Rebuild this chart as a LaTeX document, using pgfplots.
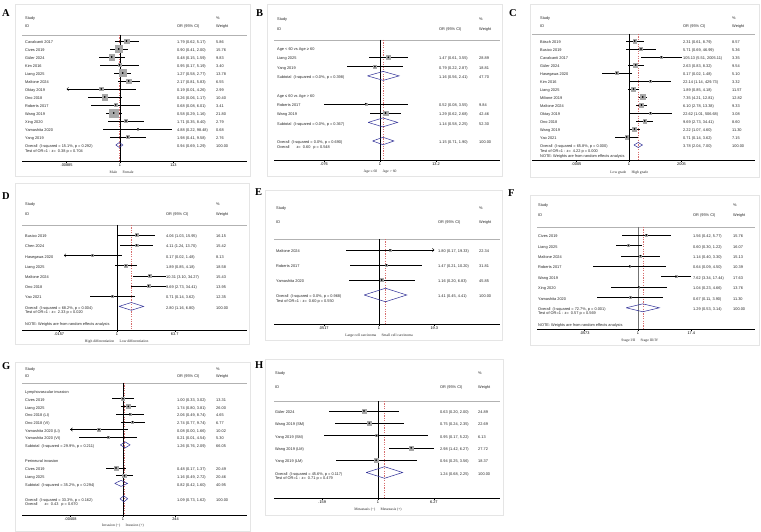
\documentclass[border=0pt]{standalone}
\usepackage{pgfplots}
\pgfplotsset{compat=1.18}
\usepackage{pgfplotstable}
\usetikzlibrary{arrows.meta}
\usepackage{fontspec}
\setmainfont{Liberation Sans}
\newfontfamily\serif{Liberation Serif}
\newcommand\ft{\fontsize{3.9}{4.5}\selectfont}
\newcommand\fs{\serif\fontsize{3.7}{4.3}\selectfont}
\definecolor{sqgray}{gray}{0.66}
\definecolor{diamc}{RGB}{45,45,150}
\definecolor{reddash}{RGB}{215,110,110}
\definecolor{framec}{gray}{0.9}

\pgfplotsset{
  forest/.style={scale only axis, anchor=south west, axis x line*=bottom, hide y axis, clip=false,
    tick align=outside, major tick length=1.8bp, ytick=\empty,
    axis line style={black, line width=0.45bp}, tick style={black, line width=0.45bp},
    xticklabel style={font=\ft, inner sep=0.8bp, text=black}},
  boxes/.style={only marks, mark=square*, scatter, scatter/use mapped color={draw=sqgray, fill=sqgray},
    visualization depends on={\thisrow{w} \as \wt},
    scatter/@pre marker code/.append style={/tikz/mark size={#1*sqrt(\wt)/2}}},
  cist/.style={only marks, mark=*, mark size=0.6bp, black, mark options={fill=black},
    error bars/.cd, x dir=both, x explicit, error mark=none, error bar style={line width=0.45bp, black}},
  nullst/.style={black, line width=0.45bp},
  refst/.style={reddash, line width=0.35bp, dash pattern=on 1.2bp off 1.2bp},
  topst/.style={black!30, line width=0.8bp},
  diamst/.style={diamc, line width=0.5bp, line join=miter},
  arrst/.style={black, line width=0.45bp, -{Straight Barb[length=1.6bp,width=3.2bp]}},
}

% ---- plotting helpers (x = log10 OR, y = -row)
\newcommand\VL[4]{\addplot[#1] table[row sep=\\, x expr={ln(\thisrow{v})/2.302585}, y=y]{v y\\ #2 #3\\ #2 #4\\};}
\newcommand\DM[5]{\addplot[diamst] table[row sep=\\, x expr={ln(\thisrow{v})/2.302585}, y expr={-(\thisrow{y}+\thisrow{d})}]{v y d\\ #1 #4 0\\ #2 #4 -#5\\ #3 #4 0\\ #2 #4 #5\\ #1 #4 0\\};}
\newcommand\BX[2]{\addplot[boxes=#2] table[x expr={ln(\thisrow{or})/2.302585}, y expr={-\thisrow{row}}]{#1};}
\newcommand\CI[1]{\addplot[cist] table[x expr={ln(\thisrow{or})/2.302585}, y expr={-\thisrow{row}}, x error plus expr={(ln(\thisrow{hi})-ln(\thisrow{or}))/2.302585}, x error minus expr={(ln(\thisrow{or})-ln(\thisrow{lo}))/2.302585}]{#1};}
\newcommand\AR[3]{\addplot[arrst] coordinates {(#1,#3) (#2,#3)};}

% ---- text helpers
\newcommand\R[4]{\node[lab] at (\cl,{\yz+\dy*(#1)}) {#2}; \node[lab] at (\co,{\yz+\dy*(#1)}) {#3}; \node[lab] at (\cw,{\yz+\dy*(#1)}) {#4};}
\newcommand\RR[2]{\node[lab] at (\cl,{\yz+\dy*(#1)}) {#2};}
\newcommand\RS[2]{\node[lab] at (\cl,{\yz+\dy*(#1)+4.4}) {#2};}
\newcommand\HD[2]{\node[lab] at (\cl,#1) {Study}; \node[lab] at (\cl,#2) {ID}; \node[lab] at (\co,#2) {OR (95\% CI)}; \node[lab] at (\cw,#1) {\%}; \node[lab] at (\cw,#2) {Weight};}
\newcommand\AL[4]{\node[axl, anchor=mid east] at ({#1-2.5},#2) {#3}; \node[axl, anchor=mid west] at ({#1+2.5},#2) {#4};}

% ---- data
\pgfplotstableread{
row or lo hi w
0 1.79 0.62 5.17 5.86
1 0.90 0.41 2.00 15.76
2 0.48 0.15 1.59 9.83
3 0.95 0.17 5.19 3.40
4 1.27 0.58 2.77 13.78
5 2.17 0.81 5.83 6.55
6 0.19 0.00885 4.26 2.99
7 0.26 0.06 1.17 10.40
8 0.68 0.08 6.01 3.41
9 0.58 0.29 1.16 21.80
10 1.71 0.35 8.40 2.79
11 4.88 0.22 98.48 0.68
12 1.98 0.41 9.58 2.76
}\tA
\pgfplotstableread{
row or lo hi w
1 1.47 0.61 3.55 28.89
2 0.79 0.22 2.87 18.81
6 0.52 0.076 3.55 9.84
7 1.29 0.62 2.68 42.46
}\tB
\pgfplotstableread{
row or lo hi w
0 2.31 0.61 8.79 8.57
1 5.71 0.69 46.99 5.36
2 105.13 5.51 2005.11 3.35
3 2.63 0.83 8.32 9.54
4 0.17 0.02 1.48 5.10
5 22.14 1.14 429.73 3.32
6 1.89 0.85 4.18 11.57
7 7.35 4.21 12.81 12.82
8 6.10 2.78 13.38 9.33
9 22.62 1.01 506.68 3.08
10 9.69 2.73 34.41 8.60
11 2.22 1.07 4.60 11.30
12 0.71 0.14 3.62 7.15
}\tC
\pgfplotstableread{
row or lo hi w
0 4.06 1.03 15.95 16.15
1 4.11 1.24 13.70 15.42
2 0.17 0.022 1.48 8.13
3 1.89 0.85 4.18 18.58
4 10.31 3.10 34.27 15.43
5 9.69 2.73 34.41 13.95
6 0.71 0.14 3.62 12.35
}\tD
\pgfplotstableread{
row or lo hi w
0 1.80 0.17 19.3 22.34
1 1.47 0.21 10.20 31.81
2 1.16 0.20 6.83 45.85
}\tE
\pgfplotstableread{
row or lo hi w
0 1.56 0.42 5.77 15.76
1 0.60 0.30 1.22 16.07
2 1.14 0.40 3.30 15.13
3 0.64 0.09 4.50 10.39
4 7.62 3.34 17.44 17.63
5 1.04 0.23 4.66 13.76
6 0.67 0.11 3.90 11.30
}\tF
\pgfplotstableread{
row or lo hi w
1 1.00 0.33 3.02 13.31
2 1.74 0.80 3.81 26.00
3 2.06 0.49 8.74 4.65
4 2.74 0.77 9.74 6.77
5 0.08 0.0041 1.66 10.02
6 0.21 0.01 4.54 5.30
10 0.48 0.17 1.37 20.49
11 1.16 0.49 2.72 20.46
}\tG
\pgfplotstableread{
row or lo hi w
0 0.63 0.20 2.00 24.89
1 0.75 0.24 2.35 22.69
2 0.95 0.17 5.22 6.13
3 2.98 1.42 6.27 27.72
4 0.94 0.25 3.56 18.37
}\tH

\begin{document}
\begin{tikzpicture}
\useasboundingbox (0,0) rectangle (761bp,532bp);
\fill[white] (0,0) rectangle (761bp,532bp);

% ---------- A
\begin{axis}[forest, at={(22bp,371bp)}, width=225bp, height=126bp,
  xmin=-3.769, xmax=4.885, ymin=-15, ymax=0.75,
  xtick={-2.053,0,2.053}, xticklabels={.00885,1,113}]
\addplot[topst] coordinates {(-3.769,0.75) (4.885,0.75)};
\VL{nullst}{1}{0.75}{-15}
\VL{refst}{0.94}{0.75}{-15}
\BX{\tA}{1.8}
\CI{\tA}
\AR{-1.93}{-2.053}{-6}
\DM{0.69}{0.94}{1.29}{13}{0.31}
\end{axis}

% ---------- B
\begin{axis}[forest, at={(274bp,372bp)}, width=226bp, height=120bp,
  xmin=-2.12, xmax=2.40, ymin=-12.043, ymax=0.860,
  xtick={-1.119,0,1.1206}, xticklabels={.076,1,13.2}]
\addplot[topst] coordinates {(-2.12,0.860) (2.40,0.860)};
\VL{nullst}{1}{0.860}{-12.043}
\VL{refst}{1.15}{0.860}{-12.043}
\BX{\tB}{0.7}
\CI{\tB}
\DM{0.56}{1.16}{2.41}{3}{0.48}
\DM{0.58}{1.14}{2.25}{8}{0.48}
\DM{0.71}{1.15}{1.90}{10}{0.40}
\end{axis}

% ---------- C
\begin{axis}[forest, at={(532bp,372bp)}, width=223bp, height=126bp,
  xmin=-6.101, xmax=7.925, ymin=-14.875, ymax=0.875,
  xtick={-3.302,0,3.302}, xticklabels={.0005,1,2005}]
\addplot[topst] coordinates {(-6.101,0.875) (7.925,0.875)};
\VL{nullst}{1}{0.875}{-14.875}
\VL{refst}{3.78}{0.875}{-14.875}
\BX{\tC}{1.3}
\CI{\tC}
\DM{2.04}{3.78}{7.00}{13}{0.31}
\end{axis}

% ---------- D
\begin{axis}[forest, at={(22bp,202bp)}, width=225bp, height=105bp,
  xmin=-2.969, xmax=4.0625, ymin=-9.314, ymax=0.980,
  xtick={-1.804,0,1.804}, xticklabels={.0157,1,63.7}]
\addplot[topst] coordinates {(-2.969,0.980) (4.0625,0.980)};
\VL{nullst}{1}{0.980}{-9.314}
\VL{refst}{2.80}{0.980}{-9.314}
\BX{\tD}{0.75}
\CI{\tD}
\AR{-1.5}{-1.658}{-2}
\DM{1.16}{2.80}{6.80}{7}{0.38}
\end{axis}

% ---------- E
\begin{axis}[forest, at={(274bp,208bp)}, width=226bp, height=85bp,
  xmin=-2.442, xmax=2.814, ymin=-4.933, ymax=0.733,
  xtick={-1.2856,0,1.2856}, xticklabels={.0517,1,19.3}]
\addplot[topst] coordinates {(-2.442,0.733) (2.814,0.733)};
\VL{nullst}{1}{0.733}{-4.933}
\VL{refst}{1.41}{0.733}{-4.933}
\BX{\tE}{0.4}
\CI{\tE}
\AR{1.15}{1.2856}{0}
\DM{0.45}{1.41}{4.41}{3}{0.45}
\end{axis}

% ---------- F
\begin{axis}[forest, at={(537bp,203bp)}, width=218bp, height=102bp,
  xmin=-2.349, xmax=2.721, ymin=-9.038, ymax=0.769,
  xtick={-1.2405,0,1.2405}, xticklabels={.0573,1,17.4}]
\addplot[topst] coordinates {(-2.349,0.769) (2.721,0.769)};
\VL{black!55, line width=1bp}{1}{0.769}{-9.038}
\VL{refst}{1.29}{0.769}{-9.038}
\BX{\tF}{0.5}
\CI{\tF}
\DM{0.53}{1.29}{3.14}{7}{0.38}
\end{axis}

% ---------- G
\begin{axis}[forest, at={(22bp,17bp)}, width=225bp, height=132bp,
  xmin=-4.591, xmax=5.636, ymin=-16.104, ymax=1.039,
  xtick={-2.387,0,2.387}, xticklabels={.00408,1,244}]
\addplot[topst] coordinates {(-4.591,1.039) (5.636,1.039)};
\VL{nullst}{1}{1.039}{-16.104}
\VL{refst}{1.09}{1.039}{-16.104}
\BX{\tG}{0.8}
\CI{\tG}
\AR{-2.25}{-2.387}{-5}
\DM{0.76}{1.26}{2.09}{7}{0.39}
\DM{0.42}{0.82}{1.60}{12}{0.39}
\DM{0.73}{1.09}{1.62}{14}{0.39}
\end{axis}

% ---------- H
\begin{axis}[forest, at={(274bp,34bp)}, width=226bp, height=97bp,
  xmin=-1.486, xmax=1.743, ymin=-7.073, ymax=0.813,
  xtick={-0.7973,0,0.7973}, xticklabels={.159,1,6.27}]
\addplot[topst] coordinates {(-1.486,0.813) (1.743,0.813)};
\VL{nullst}{1}{0.813}{-7.073}
\VL{refst}{1.24}{0.813}{-7.073}
\BX{\tH}{0.75}
\CI{\tH}
\DM{0.68}{1.24}{2.25}{5}{0.47}
\end{axis}

% ================= text layer (image pixel coordinates)
\begin{scope}[x=1bp, y=-1bp, yshift=532bp,
  lab/.style={anchor=mid west, inner sep=0pt, font=\ft, text=black!85},
  axl/.style={inner sep=0pt, font=\fs, text=black!85},
  letter/.style={anchor=mid west, inner sep=0pt, font=\serif\bfseries\fontsize{10.5}{12}\selectfont}]
% frames
\draw[framec, line width=0.6bp] (15,4) rectangle (250,176);
\draw[framec, line width=0.6bp] (267,4) rectangle (502,176);
\draw[framec, line width=0.6bp] (530,4) rectangle (759,177);
\draw[framec, line width=0.6bp] (15,183) rectangle (249,344);
\draw[framec, line width=0.6bp] (265,190) rectangle (502,340);
\draw[framec, line width=0.6bp] (530,195) rectangle (759,345);
\draw[framec, line width=0.6bp] (15,362) rectangle (250,531);
\draw[framec, line width=0.6bp] (265,359) rectangle (503,515);
% letters
\node[letter] at (2,14) {A};
\node[letter] at (256,14) {B};
\node[letter] at (509,14) {C};
\node[letter] at (2,197) {D};
\node[letter] at (255,193) {E};
\node[letter] at (508,194) {F};
\node[letter] at (2,367) {G};
\node[letter] at (255,366) {H};

% ---- A text
\def\cl{25}\def\co{177}\def\cw{216}\def\yz{41}\def\dy{8}
\HD{17}{25}
\R{0}{Cavalcanti 2017}{1.79 (0.62, 5.17)}{5.86}
\R{1}{Cives 2019}{0.90 (0.41, 2.00)}{15.76}
\R{2}{Güler 2024}{0.48 (0.15, 1.59)}{9.83}
\R{3}{Kim 2016}{0.95 (0.17, 5.19)}{3.40}
\R{4}{Liang 2025}{1.27 (0.58, 2.77)}{13.78}
\R{5}{Maltone 2024}{2.17 (0.81, 5.83)}{6.55}
\R{6}{Oktay 2019}{0.19 (0.01, 4.26)}{2.99}
\R{7}{Ono 2018}{0.26 (0.06, 1.17)}{10.40}
\R{8}{Roberts 2017}{0.68 (0.08, 6.01)}{3.41}
\R{9}{Wang 2019}{0.58 (0.29, 1.16)}{21.80}
\R{10}{Xing 2020}{1.71 (0.35, 8.40)}{2.79}
\R{11}{Yamashita 2020}{4.88 (0.22, 98.48)}{0.68}
\R{12}{Yang 2019}{1.98 (0.41, 9.58)}{2.76}
\R{13}{Overall\ \ (I-squared = 15.1\%, p = 0.292)}{0.94 (0.69, 1.29)}{100.00}
\RS{13}{Test of OR=1 : z=\ \ 0.38 p = 0.704}
\AL{120}{171}{Male}{Female}

% ---- B text
\def\cl{277}\def\co{439}\def\cw{479}\def\yz{48}\def\dy{9.3}
\HD{18}{28}
\RR{0}{Age < 60 vs Age ≥ 60}
\R{1}{Liang 2025}{1.47 (0.61, 3.55)}{28.89}
\R{2}{Yang 2019}{0.79 (0.22, 2.87)}{18.81}
\R{3}{Subtotal\ \ (I-squared = 0.0\%, p = 0.398)}{1.16 (0.56, 2.41)}{47.70}
\RR{5}{Age ≤ 60 vs Age > 60}
\R{6}{Roberts 2017}{0.52 (0.08, 3.55)}{9.84}
\R{7}{Wang 2019}{1.29 (0.62, 2.68)}{42.46}
\R{8}{Subtotal\ \ (I-squared = 0.0\%, p = 0.367)}{1.14 (0.58, 2.25)}{52.30}
\R{10}{Overall\ \ (I-squared = 0.0\%, p = 0.690)}{1.15 (0.71, 1.90)}{100.00}
\RS{10}{Overall\hspace{7bp}z=\ \ 0.60\hspace{3bp}p = 0.548}
\AL{380}{170}{Age ≤ 60}{Age > 60}

% ---- C text
\def\cl{540}\def\co{683}\def\cw{732}\def\yz{41}\def\dy{8}
\HD{17}{25}
\R{0}{Bösch 2019}{2.31 (0.61, 8.79)}{8.57}
\R{1}{Busico 2019}{5.71 (0.69, 46.99)}{5.36}
\R{2}{Cavalcanti 2017}{105.13 (5.51, 2005.11)}{3.35}
\R{3}{Güler 2024}{2.63 (0.83, 8.32)}{9.54}
\R{4}{Hasegawa 2020}{0.17 (0.02, 1.48)}{5.10}
\R{5}{Kim 2016}{22.14 (1.14, 429.73)}{3.32}
\R{6}{Liang 2025}{1.89 (0.85, 4.18)}{11.57}
\R{7}{Milione 2019}{7.35 (4.21, 12.81)}{12.82}
\R{8}{Maltone 2024}{6.10 (2.78, 13.38)}{9.33}
\R{9}{Oktay 2019}{22.62 (1.01, 506.68)}{3.08}
\R{10}{Ono 2018}{9.69 (2.73, 34.41)}{8.60}
\R{11}{Wang 2019}{2.22 (1.07, 4.60)}{11.30}
\R{12}{Yao 2021}{0.71 (0.14, 3.62)}{7.15}
\R{13}{Overall\ \ (I-squared = 65.8\%, p = 0.000)}{3.78 (2.04, 7.00)}{100.00}
\RS{13}{Test of OR=1 : z=\ \ 4.22 p = 0.000}
\node[lab] at (\cl,155) {NOTE: Weights are from random effects analysis};
\AL{629}{171}{Low grade}{High grade}

% ---- D text
\def\cl{25}\def\co{166}\def\cw{216}\def\yz{235}\def\dy{10.2}
\HD{203}{213}
\R{0}{Busico 2019}{4.06 (1.03, 15.95)}{16.15}
\R{1}{Chen 2024}{4.11 (1.24, 13.70)}{15.42}
\R{2}{Hasegawa 2020}{0.17 (0.02, 1.48)}{8.13}
\R{3}{Liang 2025}{1.89 (0.85, 4.18)}{18.58}
\R{4}{Maltone 2024}{10.31 (3.10, 34.27)}{15.43}
\R{5}{Ono 2018}{9.69 (2.73, 34.41)}{13.95}
\R{6}{Yao 2021}{0.71 (0.14, 3.62)}{12.35}
\R{7}{Overall\ \ (I-squared = 68.2\%, p = 0.004)}{2.80 (1.16, 6.80)}{100.00}
\RS{7}{Test of OR=1 : z=\ \ 2.33 p = 0.020}
\node[lab] at (\cl,323) {NOTE: Weights are from random effects analysis};
\AL{117}{340}{High differentiation}{Low differentiation}

% ---- E text
\def\cl{276}\def\co{438}\def\cw{479}\def\yz{250}\def\dy{15}
\HD{207}{221}
\R{0}{Maltone 2024}{1.80 (0.17, 19.33)}{22.34}
\R{1}{Roberts 2017}{1.47 (0.21, 10.20)}{31.81}
\R{2}{Yamashita 2020}{1.16 (0.20, 6.83)}{45.85}
\R{3}{Overall\ \ (I-squared = 0.0\%, p = 0.968)}{1.41 (0.45, 4.41)}{100.00}
\RS{3}{Test of OR=1 : z=\ \ 0.60 p = 0.550}
\AL{379}{334}{Large cell carcinoma}{Small cell carcinoma}

% ---- F text
\def\cl{538}\def\co{693}\def\cw{733}\def\yz{235}\def\dy{10.4}
\HD{204}{214}
\R{0}{Cives 2019}{1.56 (0.42, 5.77)}{15.76}
\R{1}{Liang 2025}{0.60 (0.30, 1.22)}{16.07}
\R{2}{Maltone 2024}{1.14 (0.40, 3.30)}{15.13}
\R{3}{Roberts 2017}{0.64 (0.09, 4.50)}{10.39}
\R{4}{Wang 2019}{7.62 (3.34, 17.44)}{17.63}
\R{5}{Xing 2020}{1.04 (0.23, 4.66)}{13.76}
\R{6}{Yamashita 2020}{0.67 (0.11, 3.90)}{11.30}
\R{7}{Overall\ \ (I-squared = 72.7\%, p = 0.001)}{1.29 (0.53, 3.14)}{100.00}
\RS{7}{Test of OR=1 : z=\ \ 0.57 p = 0.569}
\node[lab] at (\cl,324) {NOTE: Weights are from random effects analysis};
\AL{638}{339}{Stage I/II}{Stage III/IV}

% ---- G text
\def\cl{25}\def\co{177}\def\cw{216}\def\yz{391}\def\dy{7.7}
\HD{368}{375}
\RR{0}{Lymphovascular invasion}
\R{1}{Cives 2019}{1.00 (0.33, 3.02)}{13.31}
\R{2}{Liang 2025}{1.74 (0.80, 3.81)}{26.00}
\R{3}{Ono 2018 (LI)}{2.06 (0.49, 8.74)}{4.65}
\R{4}{Ono 2018 (VI)}{2.74 (0.77, 9.74)}{6.77}
\R{5}{Yamashita 2020 (LI)}{0.08 (0.00, 1.66)}{10.02}
\R{6}{Yamashita 2020 (VI)}{0.21 (0.01, 4.54)}{5.30}
\R{7}{Subtotal\ \ (I-squared = 29.9\%, p = 0.211)}{1.26 (0.76, 2.09)}{66.05}
\RR{9}{Perineural invasion}
\R{10}{Cives 2019}{0.48 (0.17, 1.37)}{20.49}
\R{11}{Liang 2025}{1.16 (0.49, 2.72)}{20.46}
\R{12}{Subtotal\ \ (I-squared = 35.2\%, p = 0.294)}{0.82 (0.42, 1.60)}{40.95}
\R{14}{Overall\ \ (I-squared = 33.3\%, p = 0.162)}{1.09 (0.73, 1.62)}{100.00}
\RS{14}{Overall\hspace{7bp}z=\ \ 0.43\hspace{3bp}p = 0.670}
\AL{123}{524}{Invasion (−)}{Invasion (+)}

% ---- H text
\def\cl{275}\def\co{440}\def\cw{478}\def\yz{411}\def\dy{12.3}
\HD{372}{386}
\R{0}{Güler 2024}{0.63 (0.20, 2.00)}{24.89}
\R{1}{Wang 2019 (SM)}{0.75 (0.24, 2.35)}{22.69}
\R{2}{Yang 2019 (SM)}{0.95 (0.17, 5.22)}{6.13}
\R{3}{Wang 2019 (LM)}{2.98 (1.42, 6.27)}{27.72}
\R{4}{Yang 2019 (LM)}{0.94 (0.25, 3.56)}{18.37}
\R{5}{Overall\ \ (I-squared = 45.6\%, p = 0.117)}{1.24 (0.68, 2.25)}{100.00}
\RS{5}{Test of OR=1 : z=\ \ 0.71 p = 0.479}
\AL{378}{508}{Metastasis (−)}{Metastasis (+)}
\end{scope}
\end{tikzpicture}
\end{document}
